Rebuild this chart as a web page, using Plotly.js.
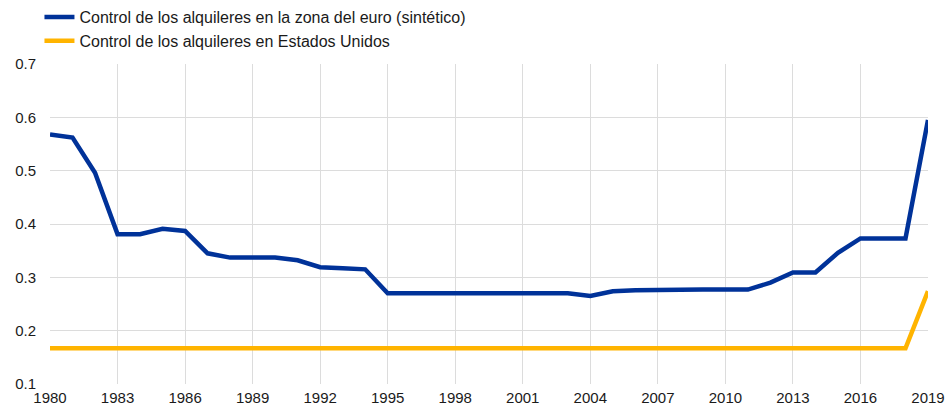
<!DOCTYPE html>
<html>
<head>
<meta charset="utf-8">
<script src="https://cdn.plot.ly/plotly-3.0.1.min.js"></script>
<style>html,body{margin:0;padding:0;background:#fff}#chart{width:947px;height:409px}</style>
</head>
<body>
<div id="chart"></div>
<script>
var years = [];
for (var y = 1980; y <= 2019; y++) years.push(y);

var euroArea = [0.568, 0.562, 0.496, 0.381, 0.381, 0.391, 0.387, 0.345, 0.337, 0.337,
                0.337, 0.332, 0.319, 0.317, 0.315, 0.270, 0.270, 0.270, 0.270, 0.270,
                0.270, 0.270, 0.270, 0.270, 0.265, 0.274, 0.276, 0.277, 0.277, 0.277,
                0.277, 0.277, 0.290, 0.309, 0.309, 0.346, 0.373, 0.373, 0.373, 0.595];

var unitedStates = [0.167, 0.167, 0.167, 0.167, 0.167, 0.167, 0.167, 0.167, 0.167, 0.167,
                    0.167, 0.167, 0.167, 0.167, 0.167, 0.167, 0.167, 0.167, 0.167, 0.167,
                    0.167, 0.167, 0.167, 0.167, 0.167, 0.167, 0.167, 0.167, 0.167, 0.167,
                    0.167, 0.167, 0.167, 0.167, 0.167, 0.167, 0.167, 0.167, 0.167, 0.274];

var seriesNames = ['Control de los alquileres en la zona del euro (sintético)',
                   'Control de los alquileres en Estados Unidos'];

var xTicks = [1980, 1983, 1986, 1989, 1992, 1995, 1998, 2001, 2004, 2007, 2010, 2013, 2016, 2019];
var yTicks = [0.1, 0.2, 0.3, 0.4, 0.5, 0.6, 0.7];

var traces = [
  {x: years, y: euroArea, name: seriesNames[0], type: 'scatter', mode: 'lines',
   line: {color: '#003299', width: 4.5}},
  {x: years, y: unitedStates, name: seriesNames[1], type: 'scatter', mode: 'lines',
   line: {color: '#FFB400', width: 4.5}}
];

var layout = {
  width: 947, height: 409,
  margin: {l: 50, r: 19, t: 64, b: 25},
  paper_bgcolor: '#fff', plot_bgcolor: '#fff',
  font: {family: '"Liberation Sans", Arial, sans-serif', size: 15, color: '#1a1a1a'},
  showlegend: true,
  legend: {x: -0.012, y: 1.003, xanchor: 'left', yanchor: 'top', yref: 'container',
           font: {size: 16}, bgcolor: 'rgba(0,0,0,0)', tracegroupgap: 0},
  xaxis: {range: [1980, 2019], tickvals: xTicks, ticktext: xTicks.map(String),
          showgrid: true, gridcolor: '#dcdcdc', gridwidth: 1, zeroline: false,
          showline: false, ticks: '', tickfont: {size: 15}, ticklabelstandoff: 3, fixedrange: true},
  yaxis: {range: [0.1, 0.7], tickvals: yTicks, ticktext: yTicks.map(function(v){return v.toFixed(1);}),
          showgrid: true, gridcolor: '#dcdcdc', gridwidth: 1, zeroline: false,
          showline: false, ticks: '', tickfont: {size: 15}, ticklabelstandoff: 13, fixedrange: true}
};

Plotly.newPlot('chart', traces, layout, {displayModeBar: false, staticPlot: true});
</script>
</body>
</html>
